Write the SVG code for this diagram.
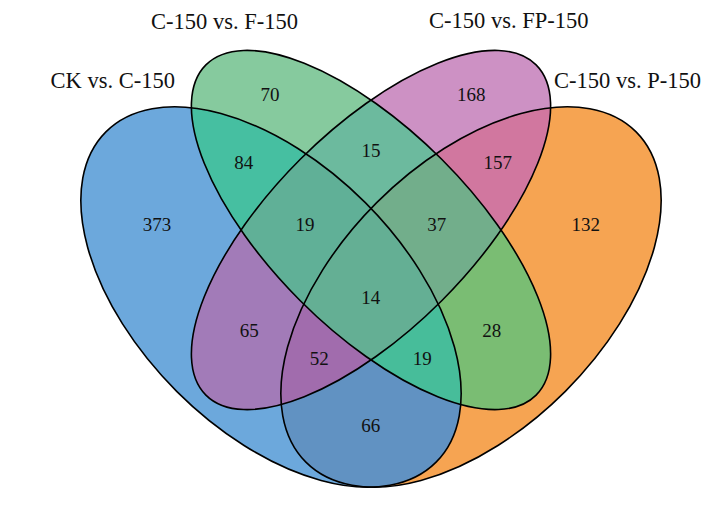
<svg xmlns="http://www.w3.org/2000/svg" xmlns:xlink="http://www.w3.org/1999/xlink" width="708" height="522" viewBox="0 0 708 522">
<style>
.outline{fill:none;stroke:#000;stroke-width:1.6}
.lbl{font-family:"Liberation Serif","Times New Roman",serif;font-size:22.5px;fill:#111}
.num{font-family:"Liberation Serif","Times New Roman",serif;font-size:19px;fill:#111;text-anchor:middle}
</style>
<defs>
<ellipse id="gA" cx="271" cy="297" rx="233.5" ry="133.4" transform="rotate(45 271 297)"/>
<ellipse id="gB" cx="371" cy="230" rx="233.5" ry="100" transform="rotate(45 371 230)"/>
<ellipse id="gC" cx="371" cy="230" rx="233.5" ry="100" transform="rotate(-45 371 230)"/>
<ellipse id="gD" cx="471" cy="297" rx="233.5" ry="133.4" transform="rotate(-45 471 297)"/>
<clipPath id="cA"><use href="#gA"/></clipPath>
<clipPath id="cB"><use href="#gB"/></clipPath>
<clipPath id="cC"><use href="#gC"/></clipPath>
<clipPath id="cD"><use href="#gD"/></clipPath>
</defs>
<rect width="708" height="522" fill="#fff"/>
<g id="region-fills">
<use href="#gA" fill="#6CA8DC"/>
<use href="#gB" fill="#86CA9E"/>
<use href="#gC" fill="#CD91C4"/>
<use href="#gD" fill="#F6A452"/>
<g clip-path="url(#cA)"><use href="#gB" fill="#46BFA1"/></g>
<g clip-path="url(#cA)"><use href="#gC" fill="#A27BB8"/></g>
<g clip-path="url(#cA)"><use href="#gD" fill="#6192C2"/></g>
<g clip-path="url(#cB)"><use href="#gC" fill="#6CBA9E"/></g>
<g clip-path="url(#cB)"><use href="#gD" fill="#7ABD73"/></g>
<g clip-path="url(#cC)"><use href="#gD" fill="#D1779F"/></g>
<g clip-path="url(#cA)"><g clip-path="url(#cB)"><use href="#gC" fill="#60B097"/></g></g>
<g clip-path="url(#cA)"><g clip-path="url(#cB)"><use href="#gD" fill="#47BD9A"/></g></g>
<g clip-path="url(#cA)"><g clip-path="url(#cC)"><use href="#gD" fill="#A16CAD"/></g></g>
<g clip-path="url(#cB)"><g clip-path="url(#cC)"><use href="#gD" fill="#72AE8B"/></g></g>
<g clip-path="url(#cA)"><g clip-path="url(#cB)"><g clip-path="url(#cC)"><use href="#gD" fill="#64AF94"/></g></g></g>
</g>
<g id="set-ck-c150">
<use href="#gA" class="outline"/>
<text class="lbl" x="50.5" y="88.3">CK vs. C-150</text>
</g>
<g id="set-c150-f150">
<use href="#gB" class="outline"/>
<text class="lbl" x="151" y="29.3">C-150 vs. F-150</text>
</g>
<g id="set-c150-fp150">
<use href="#gC" class="outline"/>
<text class="lbl" x="429" y="28.3">C-150 vs. FP-150</text>
</g>
<g id="set-c150-p150">
<use href="#gD" class="outline"/>
<text class="lbl" x="554" y="88.3">C-150 vs. P-150</text>
</g>
<g id="counts">
<text class="num" x="157" y="230.7">373</text>
<text class="num" x="270" y="100.7">70</text>
<text class="num" x="471.3" y="100.7">168</text>
<text class="num" x="585.7" y="230.7">132</text>
<text class="num" x="243.7" y="169.3">84</text>
<text class="num" x="371" y="156.7">15</text>
<text class="num" x="497.7" y="169.3">157</text>
<text class="num" x="305" y="230.7">19</text>
<text class="num" x="436.7" y="230.7">37</text>
<text class="num" x="370.7" y="304">14</text>
<text class="num" x="249.3" y="337.3">65</text>
<text class="num" x="491.7" y="337.3">28</text>
<text class="num" x="319.3" y="365">52</text>
<text class="num" x="422.3" y="365">19</text>
<text class="num" x="370.7" y="432.3">66</text>
</g>
</svg>
